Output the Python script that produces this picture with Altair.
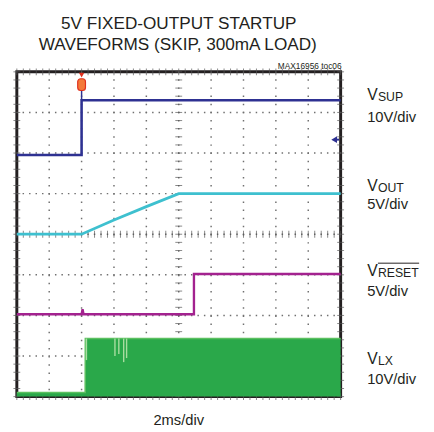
import altair as alt
import pandas as pd

# ---- scope screen: 10 x 8 divisions (2 ms/div) ----
X_DIVS = 10
Y_DIVS = 8

# ---- traces (time in divisions, level in divisions from bottom) ----
vsup_t = [0.0, 2.0, 2.0, 10.0]
vsup_v = [5.95, 5.95, 7.3, 7.3]

vout_t = [0.0, 2.0, 3.0, 4.0, 5.0, 10.0]
vout_v = [4.0, 4.0, 4.35, 4.68, 5.0, 5.0]

vreset_t = [0.0, 2.0, 2.03, 2.06, 5.47, 5.47, 10.0]
vreset_v = [2.03, 2.03, 2.15, 2.03, 2.03, 3.02, 3.02]

vlx_t = [0.0, 2.11, 2.115, 10.0]
vlx_v = [0.1, 0.1, 1.43, 1.43]

vlx_dip_t = [2.15, 3.03, 3.15, 3.3, 3.39]
vlx_dip_v = [0.9, 1.0, 1.05, 0.85, 0.95]

trigger_t = 2.0
vsup_ground = 6.33

title_lines = ["5V FIXED-OUTPUT STARTUP", "WAVEFORMS (SKIP, 300mA LOAD)"]
tag = "MAX16956 toc06"
xlabel = "2ms/div"
channels = [("V", "SUP", "10V/div"), ("V", "OUT", "5V/div"),
            ("V", "RESET", "5V/div"), ("V", "LX", "10V/div")]

# ---- colours ----
C_SUP = "#2e3192"
C_OUT = "#3ec0cf"
C_RST = "#a3228f"
C_LX = "#2aa84a"
GRID = "#707070"
FONT = "Liberation Sans, Arial"

W, H = 330, 331
xs = alt.Scale(domain=[0, X_DIVS], nice=False, zero=False)
ys = alt.Scale(domain=[0, Y_DIVS], nice=False, zero=False)


def trace(t, v):
    return pd.DataFrame({"t": t, "v": v, "i": range(len(t))})


def X(f="t"):
    return alt.X(f"{f}:Q", scale=xs, axis=None)


def Y(f="v"):
    return alt.Y(f"{f}:Q", scale=ys, axis=None)


one = pd.DataFrame({"d": [0]})

# grid
hgrid = alt.Chart(pd.DataFrame({"v": [1, 2, 3, 4, 5, 6, 7]})).mark_rule(
    color=GRID, strokeWidth=1.5, strokeDash=[1.5, 5.1], strokeDashOffset=0.75
).encode(y=Y())
vgrid = alt.Chart(pd.DataFrame({"t": [1, 2, 3, 4, 5, 6, 7, 8, 9]})).mark_rule(
    color=GRID, strokeWidth=1.5, strokeDash=[1.5, 6.8], strokeDashOffset=0.75
).encode(x=X())

minor_x = [round(k * 0.2, 2) for k in range(0, 51)]
minor_y = [round(k * 0.2, 2) for k in range(0, 41)]

hticks = alt.Chart(pd.DataFrame({"t": minor_x * 3,
                                 "v": [4] * 51 + [0] * 51 + [8] * 51})).mark_tick(
    orient="vertical", size=7, thickness=1, color="#555"
).encode(x=X(), y=Y())
vticks = alt.Chart(pd.DataFrame({"v": minor_y * 3,
                                 "t": [5] * 41 + [0] * 41 + [10] * 41})).mark_tick(
    orient="horizontal", size=7, thickness=1, color="#555"
).encode(x=X(), y=Y())

# traces
lx_area = alt.Chart(trace(vlx_t, vlx_v)).mark_area(
    color=C_LX, opacity=1, line={"color": "#5cc060", "strokeWidth": 1.5}
).encode(x=X(), y=Y())
lx_dips = alt.Chart(pd.DataFrame({"t": vlx_dip_t, "v": vlx_dip_v,
                                  "top": [1.43] * len(vlx_dip_t)})).mark_rule(
    color="#a8dca0", strokeWidth=1.4
).encode(x=X(), y=Y(), y2="top:Q")

rst = alt.Chart(trace(vreset_t, vreset_v)).mark_line(color=C_RST, strokeWidth=2.4).encode(
    x=X(), y=Y(), order="i:Q")
out = alt.Chart(trace(vout_t, vout_v)).mark_line(color=C_OUT, strokeWidth=2.8).encode(
    x=X(), y=Y(), order="i:Q")
sup = alt.Chart(trace(vsup_t, vsup_v)).mark_line(color=C_SUP, strokeWidth=2.6).encode(
    x=X(), y=Y(), order="i:Q")

# trigger marker and ground marker
trig_line = alt.Chart(pd.DataFrame({"t": [trigger_t], "v": [7.3], "v2": [7.6]})).mark_rule(
    color=C_SUP, strokeWidth=1.5
).encode(x=X(), y=Y(), y2="v2:Q")
trig_df = pd.DataFrame({"t": [trigger_t - 0.12], "t2": [trigger_t + 0.12],
                        "v": [7.54], "v2": [7.83]})
trig_rect = alt.Chart(trig_df).mark_rect(
    color="#f47a3a", stroke="#e0301e", strokeWidth=1.2, cornerRadius=3
).encode(x=X(), x2="t2:Q", y=Y(), y2="v2:Q")
trig_tri = alt.Chart(pd.DataFrame({"t": [trigger_t], "v": [7.92]})).mark_point(
    shape="triangle-down", filled=True, color="#e0301e", size=30, opacity=1
).encode(x=X(), y=Y())
gnd = alt.Chart(pd.DataFrame({"t": [9.8], "v": [vsup_ground]})).mark_point(
    shape="triangle-left", filled=True, color=C_SUP, size=45, opacity=1
).encode(x=X(), y=Y())
gnd_stem = alt.Chart(pd.DataFrame({"t": [9.8], "t2": [9.95], "v": [vsup_ground]})).mark_rule(
    color=C_SUP, strokeWidth=2
).encode(x=X(), x2="t2:Q", y=Y())

# ---- text ----
def label(text, px, py, size, align="left", font=FONT):
    return alt.Chart(one).mark_text(
        text=text, fontSize=size, font=font, align=align, baseline="alphabetic",
        color="#231f20"
    ).encode(x=alt.value(px - 17), y=alt.value(py - 69))


texts = [
    label(title_lines[0], 182, 25, 17.5, "center"),
    label(title_lines[1], 181, 47, 17.5, "center"),
    label(tag, 348, 66, 8.5, "right"),
    label(xlabel, 182, 429, 15, "center"),
]
label_rows = [(98, 120), (190, 209), (277, 297), (367, 387)]
for (v, sub, scale), (yb, ys2) in zip(channels, label_rows):
    texts.append(label(v, 374, yb, 16))
    texts.append(label(sub, 385, yb + 1, 12.5))
    texts.append(label(scale, 374, ys2, 15))

overline = alt.Chart(one).mark_rule(color="#231f20", strokeWidth=1).encode(
    x=alt.value(385 - 17), x2=alt.value(427 - 17), y=alt.value(264 - 69))

chart = alt.layer(
    hgrid, vgrid, hticks, vticks, lx_area, lx_dips, rst, out, sup,
    trig_line, trig_rect, trig_tri, gnd, gnd_stem, overline, *texts
).properties(
    width=W, height=H,
    autosize=alt.AutoSizeParams(type="none"),
    padding={"left": 9, "top": 61, "right": 87, "bottom": 32},
).configure_view(stroke="#231f20", strokeWidth=3)

chart.save("out.html", embed_options={"renderer": "svg", "actions": False})
